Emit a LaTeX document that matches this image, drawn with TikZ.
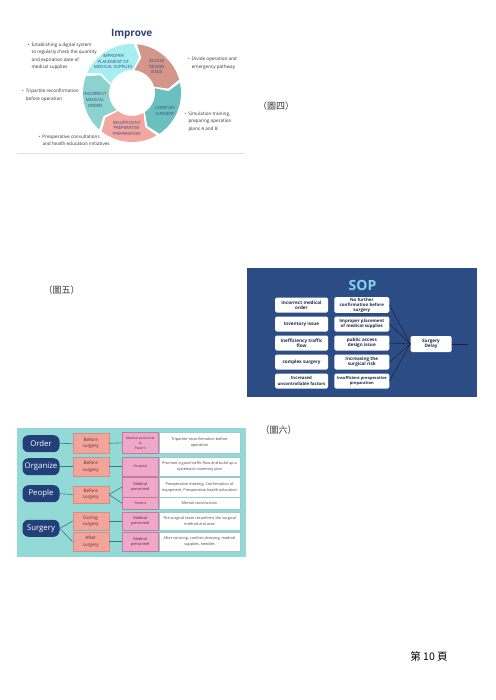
\documentclass[tikz,border=0pt]{standalone}
\usepackage{fontspec}
\setmainfont{Open Sans}
\newfontfamily\cjk{Noto Sans CJK TC}
\usetikzlibrary{positioning}
\definecolor{impnavy}{HTML}{2E4272}
\definecolor{segtext}{HTML}{34497A}
\definecolor{notegray}{HTML}{2E2E2E}
\definecolor{rulegray}{HTML}{DCE0E5}
\definecolor{segcyan}{HTML}{A6EEF2}
\definecolor{segrust}{HTML}{D4958A}
\definecolor{segteal}{HTML}{6BBFBF}
\definecolor{segpink}{HTML}{F4A7A0}
\definecolor{segmint}{HTML}{8CD2CF}
\definecolor{sopblue}{HTML}{2C4C86}
\definecolor{soptitle}{HTML}{86D3F0}
\definecolor{soptext}{HTML}{1E2A4A}
\definecolor{sopline}{HTML}{1A2238}
\definecolor{planbg}{HTML}{93DAD6}
\definecolor{pillblue}{HTML}{233F7A}
\definecolor{salmon}{HTML}{F3A59C}
\definecolor{salmonline}{HTML}{D98C85}
\definecolor{salmontext}{HTML}{5E2A2A}
\definecolor{rose}{HTML}{F0A8C8}
\definecolor{roseline}{HTML}{C17BA0}
\definecolor{rosetext}{HTML}{5A2248}
\definecolor{acttext}{HTML}{444444}
\definecolor{actline}{HTML}{9FC9CC}
\definecolor{linkteal}{HTML}{2F7F8A}
\begin{document}
\begin{tikzpicture}[x=1pt,y=1pt]
\useasboundingbox (0,0) rectangle (495,-700);
% Set styles
\tikzstyle{Caption}=[font=\cjk\fontsize{9}{10}\selectfont,text=black!80,inner sep=0pt]
\tikzstyle{Note}=[anchor=north west,align=left,inner sep=0pt,font=\fontsize{4.6}{7.3}\selectfont,text=notegray]
\tikzstyle{Seg}=[align=center,inner sep=0pt,font=\fontsize{4.3}{5.6}\selectfont,text=segtext]
\tikzstyle{Cause}=[fill=white,rounded corners=1.5pt,align=center,inner sep=0.5pt,minimum width=53pt,minimum height=15pt,font=\bfseries\fontsize{4.6}{5.3}\selectfont,text=soptext]
\tikzstyle{SopLine}=[draw=sopline,line width=0.5pt]
\tikzstyle{Pill}=[fill=pillblue,rounded corners=6pt,minimum width=37pt,minimum height=17pt,inner sep=0pt,text=white,font=\fontsize{7.8}{8}\selectfont]
\tikzstyle{Stage}=[fill=salmon,draw=salmonline,line width=0.4pt,align=center,inner sep=0pt,minimum width=36pt,font=\fontsize{4.6}{6.5}\selectfont,text=salmontext]
\tikzstyle{Who}=[fill=rose,draw=roseline,line width=0.4pt,align=center,inner sep=0pt,minimum width=36pt,text=rosetext]
\tikzstyle{Act}=[fill=white,draw=actline,line width=0.3pt,align=center,inner sep=0pt,minimum width=81.7pt,font=\fontsize{3.8}{6}\selectfont,text=acttext]
\tikzstyle{Link}=[draw=linkteal,line width=0.6pt]
% Captions
\node[Caption] (cap4) at (276,-106.5) {（圖四）};
\node[Caption] (cap5) at (61.5,-290) {（圖五）};
\node[Caption] (cap6) at (278.5,-430) {（圖六）};
\node[Caption,font=\cjk\fontsize{10.5}{12}\selectfont,text=black] (page) at (429,-656.5) {第 10 頁};
% Improve
\node[font=\bfseries\fontsize{10}{12}\selectfont,text=impnavy] (imptitle) at (131.7,-34) {Improve};
\draw[rulegray,line width=0.6pt] (17,-153) -- (245,-153);
\begin{scope}[shift={(132,-93)}]
\foreach \s/\e/\c in {158/86/segcyan, 86/14/segrust, 14/-58/segteal, -58/-130/segpink, -130/-202/segmint}
  \fill[\c] (\s-2:49pt) arc[start angle=\s-2,end angle=\e+2,radius=49pt] -- (\e-7:36.5pt)
    -- (\e+2:23pt) arc[start angle=\e+2,end angle=\s-2,radius=23pt] -- (\s-11:36.5pt) -- cycle;
\end{scope}
\node[Seg] (improper) at (113.3,-61.7) {IMPROPER\\PLACEMENT OF\\MEDICAL SUPPLIES};
\node[Seg] (access) at (156.7,-66.7) {ACCESS\\DESIGN\\ISSUE};
\node[Seg] (complex) at (165,-110.7) {COMPLEX\\SURGERY};
\node[Seg] (insufficient) at (126.7,-128.3) {INSUFFICIENT\\PREPERATIVE\\PREPARATION};
\node[Seg] (incorrect) at (95,-100) {INCORRECT\\MEDICAL\\ORDER};
\node[Note] (n1) at (31.5,-43) {\llap{\textbullet\hspace{2pt}}Establishing a digital system\\to regularly check the quantity\\and expiration date of\\medical supplies};
\node[Note] (n2) at (191.7,-57.3) {\llap{\textbullet\hspace{2pt}}Divide operation and\\emergency pathway};
\node[Note] (n3) at (25.7,-89) {\llap{\textbullet\hspace{2pt}}Tripartite reconfirmation\\before operation};
\node[Note] (n4) at (188.3,-112) {\llap{\textbullet\hspace{2pt}}Simulation training,\\preparing operation\\plans A and B};
\node[Note] (n5) at (42.3,-134.7) {\llap{\textbullet\hspace{2pt}}Preoperative consultations\\and health education initiatives};
% SOP
\fill[sopblue] (247,-268.3) rectangle (477,-396.7);
\node[font=\bfseries\fontsize{14}{16}\selectfont,text=soptitle] (soptitle) at (362.5,-285) {SOP};
\foreach [count=\i] \f/\t in {4.6/{Incorrect medical\\order}, 4.6/{Inventory issue}, 4.6/{Inefficiency traffic\\flow},
    4.6/{complex surgery}, 4.3/{Increased\\uncontrollable factors}}
  \node[Cause,font=\bfseries\fontsize{\f}{5.3}\selectfont] (c\i) at (301.5,{-305-19*(\i-1)}) {\t};
\foreach [count=\i] \f/\t in {4.4/{No further\\confirmation before\\surgery}, 4.4/{Improper placement\\of medical supplies},
    4.6/{public access\\design issue}, 4.6/{Increasing the\\surgical risk}, 4/{Insufficient preoperative\\preparation}}
  \node[Cause,minimum width=55pt,font=\bfseries\fontsize{\f}{5.1}\selectfont] (f\i) at (361.8,{-305-19*(\i-1)}) {\t};
\node[Cause,minimum width=41pt,minimum height=16pt] (delay) at (431,-344) {Surgery\\Delay};
\coordinate (out) at (468,-344);
\foreach \i in {1,...,5}
  \draw[SopLine] (f\i.east) -- (delay.west);
\draw[SopLine] (delay) -- (out);
% Plan
\fill[planbg] (17,-427.5) rectangle (246,-556.7);
\foreach \n/\y/\t in {order/443.7/Order, organize/466.7/Organize, people/493.7/People, surgery/528.3/Surgery}
  \node[Pill] (\n) at (41,-\y) {\t};
\foreach [count=\i] \y/\h/\t in {443.3/20/{Before\\surgery}, 466.7/18.7/{Before\\surgery}, 494.5/17.6/{Before\\surgery},
    521.2/17.7/{During\\surgery}, 541.7/18.7/{After\\surgery}}
  \node[Stage,minimum height=\h pt] (s\i) at (90.7,-\y) {\t};
\foreach [count=\i] \y/\h/\f/\w/\a in {
    442.8/21/3.3/{Medical personnel\\\&\\Patient}/{Tripartite reconfirmation before\\operation},
    466.7/18.7/3.5/{Hospital}/{Promote a good traffic flow and build up a\\systematic inventory plan},
    487/19.4/3.9/{Medical\\personnel}/{Preoperative meeting, Confirmation of\\equipment, Preoperative health education},
    503.3/12/3.5/{Patient}/{Mental construction},
    521.2/17.7/3.9/{Medical\\personnel}/{The surgical team reconfirms the surgical\\method and area},
    541.7/18.7/3.9/{Medical\\personnel}/{After suturing, confirm dressing, medical\\supplies, needles}}
  {
  \node[Who,minimum height=\h pt,font=\fontsize{\f}{5}\selectfont] (w\i) at (140.3,-\y) {\w};
  \node[Act,minimum height=\h pt,right=0pt of w\i] (a\i) {\a};
  }
% Edges
\foreach \a/\b in {order/s1, organize/s2, people/s3, surgery/s4, surgery/s5,
                   s1/w1, s2/w2, s3/w3, s3/w4, s4/w5, s5/w6}
  \draw[Link] (\a.east) -- (\b.west);
\end{tikzpicture}
\end{document}
